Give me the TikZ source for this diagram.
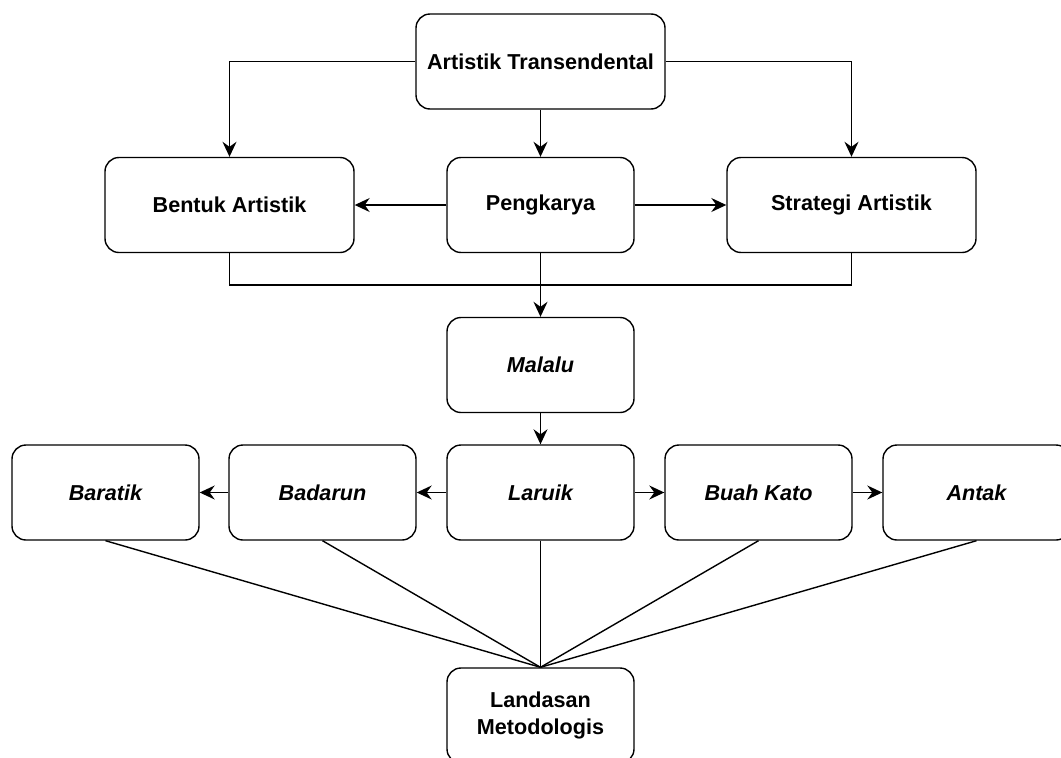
\documentclass[tikz,border=0pt]{standalone}
\usepackage{fontspec}
\setmainfont{Liberation Sans}
\usetikzlibrary{arrows.meta}
\tikzset{
  box/.style={draw, line width=1.4pt, rounded corners=14pt, minimum width=187pt,
    minimum height=95pt, align=center, inner sep=0pt,
    font=\bfseries\fontsize{21.6}{27}\selectfont},
  widebox/.style={box, minimum width=249pt},
  itbox/.style={box, font=\bfseries\itshape\fontsize{21.6}{27}\selectfont},
  arr/.style={-{Stealth[length=15pt,width=14pt,inset=5pt]}, line width=1.4pt},
  ln/.style={line width=1.4pt}
}
\begin{document}
\begin{tikzpicture}[x=1pt,y=-1pt]
  \useasboundingbox (0,0) rectangle (1061,758);
  % top rows
  \node[widebox] (art) at (540.5,61.5) {Artistik Transendental};
  \node[widebox] (bentuk) at (229.5,205) {Bentuk Artistik};
  \node[box] (peng) at (540.5,205) {Pengkarya};
  \node[widebox] (strat) at (851.5,205) {Strategi Artistik};
  \node[itbox] (malalu) at (540.5,365) {Malalu};
  \coordinate (bus) at (540.5,285);
  % bottom row
  \node[itbox] (baratik) at (105.5,492.5) {Baratik};
  \node[itbox] (badarun) at (322.5,492.5) {Badarun};
  \node[itbox] (laruik) at (540.5,492.5) {Laruik};
  \node[itbox] (buah) at (758.5,492.5) {Buah Kato};
  \node[itbox] (antak) at (976.5,492.5) {Antak};
  \node[box] (land) at (540.5,715.5) {Landasan\\Metodologis};
  % connectors
  \draw[arr] (art.west) -| (bentuk.north);
  \draw[arr] (art.east) -| (strat.north);
  \draw[arr] (art) -- (peng);
  \draw[arr] (peng) -- (bentuk);
  \draw[arr] (peng) -- (strat);
  \draw[ln] (bentuk.south) |- (bus) -| (strat.south);
  \draw[arr] (peng) -- (malalu);
  \draw[arr] (malalu) -- (laruik);
  \draw[arr] (laruik) -- (badarun);
  \draw[arr] (badarun) -- (baratik);
  \draw[arr] (laruik) -- (buah);
  \draw[arr] (buah) -- (antak);
  \foreach \n in {baratik,badarun,laruik,buah,antak}
    \draw[ln] (\n.south) -- (land.north);
\end{tikzpicture}
\end{document}
